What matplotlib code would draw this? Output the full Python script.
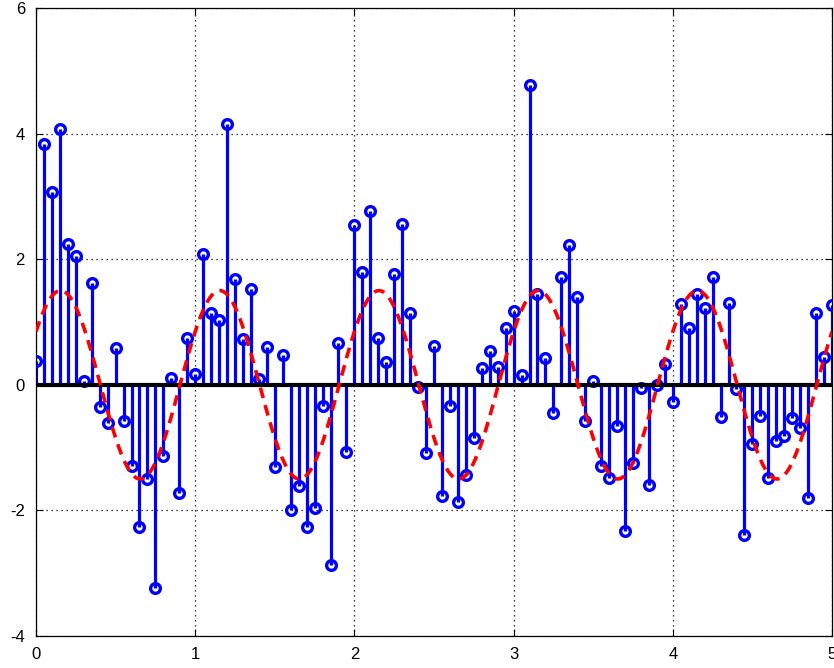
import numpy as np
import matplotlib
matplotlib.use("Agg")
import matplotlib.pyplot as plt

plt.rcParams['font.family'] = ['Liberation Sans', 'DejaVu Sans']
plt.rcParams['axes.unicode_minus'] = False

# sample times: 0 .. 5 in steps of 0.05
t = np.linspace(0, 5, 101)

# noisy samples
noisy = [
    0.38, 3.83, 3.07, 4.08, 2.24, 2.05, 0.06, 1.62, -0.36, -0.61,
    0.58, -0.57, -1.30, -2.27, -1.50, -3.23, -1.14, 0.11, -1.73, 0.75,
    0.17, 2.09, 1.15, 1.03, 4.16, 1.69, 0.73, 1.53, 0.10, 0.60,
    -1.31, 0.47, -2.00, -1.61, -2.26, -1.96, -0.33, -2.87, 0.66, -1.07,
    2.55, 1.80, 2.76, 0.74, 0.36, 1.76, 2.56, 1.15, -0.04, -1.08,
    0.61, -1.77, -0.33, -1.87, -1.43, -0.84, 0.27, 0.54, 0.28, 0.90,
    1.18, 0.15, 4.77, 1.45, 0.42, -0.45, 1.72, 2.22, 1.40, -0.57,
    0.06, -1.30, -1.49, -0.66, -2.33, -1.24, -0.05, -1.60, -0.01, 0.33,
    -0.27, 1.29, 0.91, 1.45, 1.22, 1.72, -0.52, 1.31, -0.06, -2.39,
    -0.94, -0.49, -1.49, -0.90, -0.81, -0.53, -0.68, -1.81, 1.14, 0.45,
    1.27,
]

# underlying clean signal (dashed red): amp * sin(2*pi*freq*t + phase)
amp = 1.5
freq = 1.0
phase = 0.6
t_fine = np.linspace(0, 5, 1001)
clean = amp * np.sin(2 * np.pi * freq * t_fine + phase)

xticks = [0, 1, 2, 3, 4, 5]
yticks = [-4, -2, 0, 2, 4, 6]

fig = plt.figure(figsize=(8.34, 6.68), dpi=100)
ax = fig.add_axes([36 / 834, 1 - 636 / 668, 796 / 834, 628 / 668])

markerline, stemlines, baseline = ax.stem(t, noisy)
plt.setp(stemlines, color='#0000ff', linewidth=2.3)
plt.setp(markerline, marker='o', markersize=7, markerfacecolor='none',
         markeredgecolor='#0000ff', markeredgewidth=2.4, zorder=4)
plt.setp(baseline, color='black', linewidth=3.0, zorder=5)

ax.plot(t_fine, clean, color='#ff0000', linewidth=2.6, zorder=6,
        linestyle=(0, (3, 2)))

ax.set_xlim(0, 5)
ax.set_ylim(-4, 6)
ax.set_xticks(xticks)
ax.set_yticks(yticks)
ax.grid(True, color='black', linestyle=(0, (1, 3)), linewidth=0.9)
ax.set_axisbelow(True)
ax.tick_params(direction='in', length=5, width=0.8, labelsize=12,
               top=True, right=True)
ax.tick_params(axis='x', pad=8)
ax.tick_params(axis='y', pad=8)
for s in ax.spines.values():
    s.set_linewidth(0.9)
    s.set_color('black')

fig.savefig('out.png', dpi=100)
